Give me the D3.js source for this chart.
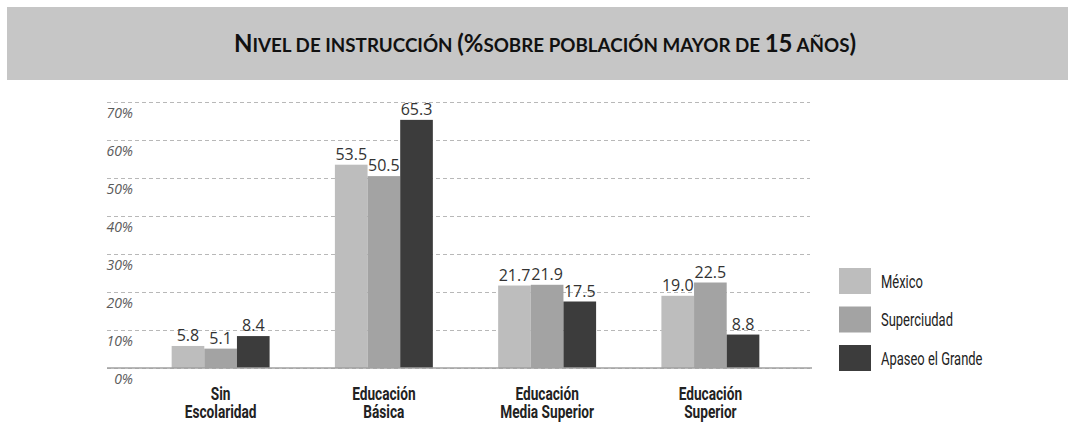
<html>
<head>
<meta charset="utf-8">
<title>Nivel de instrucción</title>
<style>
  body { margin: 0; background: #ffffff; }
  svg { display: block; }
  .num { font-family: 'Open Sans', sans-serif; font-size: 16px; fill: #333333; }
  .cat { font-family: Roboto, sans-serif; font-weight: bold; font-size: 19px; fill: #222222; }
  .leg { font-family: Roboto, sans-serif; font-size: 18px; fill: #222222; }
  .ytick { font-family: 'Open Sans', sans-serif; font-size: 14px; font-style: italic; fill: #5a5a5a; }
</style>
</head>
<body>
<div id="chart"></div>
<script src="https://cdnjs.cloudflare.com/ajax/libs/d3/7.8.5/d3.min.js"></script>
<script>
  // data
  const categories = [["Sin", "Escolaridad"], ["Educación", "Básica"], ["Educación", "Media Superior"], ["Educación", "Superior"]]
  const series = ["México", "Superciudad", "Apaseo el Grande"]
  const mexico = [5.8, 53.5, 21.7, 19.0]
  const superciudad = [5.1, 50.5, 21.9, 22.5]
  const apaseo = [8.4, 65.3, 17.5, 8.8]
  const yTicks = [0, 10, 20, 30, 40, 50, 60, 70]
  const colors = ["#bdbdbd", "#a3a3a3", "#3c3c3c"]

  const W = 1070, H = 425
  const svg = d3.select("#chart").append("svg")
    .attr("width", W)
    .attr("height", H)

  // title banner
  svg.append("rect")
    .attr("x", 7).attr("y", 7)
    .attr("width", 1061).attr("height", 73)
    .attr("fill", "#c6c6c6")

  // title in small caps, built from tspans
  const titleParts = [
    ["N", 1], ["IVEL DE INSTRUCCIÓN ", 0], ["(%", 1], ["SOBRE POBLACIÓN MAYOR DE ", 0],
    ["15", 1], [" AÑOS", 0], [")", 1]
  ]
  const title = svg.append("text")
    .attr("x", 545).attr("y", 52)
    .attr("text-anchor", "middle")
    .attr("font-family", "Lato, 'Open Sans', sans-serif")
    .attr("font-weight", "bold")
    .attr("fill", "#111111")
  title.selectAll("tspan")
    .data(titleParts)
    .join("tspan")
    .attr("font-size", d => d[1] ? 24 : 18.8)
    .text(d => d[0])

  // scales
  const x = d3.scaleBand()
    .domain(d3.range(categories.length))
    .range([139, 792])
    .paddingInner(0.4)
    .paddingOuter(0.2)

  const xSub = d3.scaleBand()
    .domain(series)
    .range([0, x.bandwidth()])

  const y = d3.scaleLinear()
    .domain([0, 70])
    .range([368, 102])

  const color = d3.scaleOrdinal().domain(series).range(colors)

  // grid lines + tick labels
  const yAxis = d3.axisLeft(y)
    .tickValues(yTicks)
    .tickSize(-(810 - 107))
    .tickFormat(d => d + "%")

  const gAxis = svg.append("g")
    .attr("transform", "translate(107,0)")
    .call(yAxis)
  gAxis.select(".domain").remove()
  gAxis.selectAll(".tick line")
    .attr("stroke", "#b8b8b8")
    .attr("stroke-dasharray", "4,3")
  gAxis.selectAll(".tick text")
    .attr("class", "ytick")
    .attr("x", 26)
    .attr("dy", 15)
    .attr("text-anchor", "end")
    .style("font-size", "14px")
    .style("font-family", "'Open Sans', sans-serif")

  // bars
  const rows = categories.map((c, i) => ({
    i: i,
    vals: [
      { s: series[0], v: mexico[i] },
      { s: series[1], v: superciudad[i] },
      { s: series[2], v: apaseo[i] }
    ]
  }))

  const groups = svg.selectAll(".grp")
    .data(rows)
    .join("g")
    .attr("class", "grp")
    .attr("transform", d => "translate(" + x(d.i) + ",0)")

  groups.selectAll("rect")
    .data(d => d.vals)
    .join("rect")
    .attr("x", d => xSub(d.s))
    .attr("y", d => y(d.v))
    .attr("width", xSub.bandwidth())
    .attr("height", d => y(0) - y(d.v))
    .attr("fill", d => color(d.s))

  groups.selectAll("text.num")
    .data(d => d.vals)
    .join("text")
    .attr("class", "num")
    .attr("x", d => xSub(d.s) + xSub.bandwidth() / 2)
    .attr("y", d => y(d.v) - 5)
    .attr("text-anchor", "middle")
    .text(d => d.v.toFixed(1))

  // zero line
  svg.append("line")
    .attr("x1", 107).attr("x2", 812)
    .attr("y1", y(0)).attr("y2", y(0))
    .attr("stroke", "#a0a0a0")
    .attr("stroke-width", 1.5)

  // category labels (condensed look)
  const cat = svg.selectAll(".catg")
    .data(categories)
    .join("g")
    .attr("class", "catg")
    .attr("transform", (d, i) => "translate(" + (x(i) + x.bandwidth() / 2) + ",0) scale(0.72,1)")
  cat.append("text")
    .attr("class", "cat")
    .attr("text-anchor", "middle")
    .selectAll("tspan")
    .data(d => d)
    .join("tspan")
    .attr("x", 0)
    .attr("y", (d, j) => 400 + j * 18)
    .text(d => d)

  // legend
  const legend = svg.selectAll(".legend")
    .data(series)
    .join("g")
    .attr("class", "legend")
    .attr("transform", (d, i) => "translate(839," + (268 + i * 38.5) + ")")
  legend.append("rect")
    .attr("width", 32).attr("height", 26)
    .attr("fill", d => color(d))
  legend.append("text")
    .attr("class", "leg")
    .attr("transform", "translate(42,19.5) scale(0.72,1)")
    .text(d => d)
</script>
</body>
</html>
